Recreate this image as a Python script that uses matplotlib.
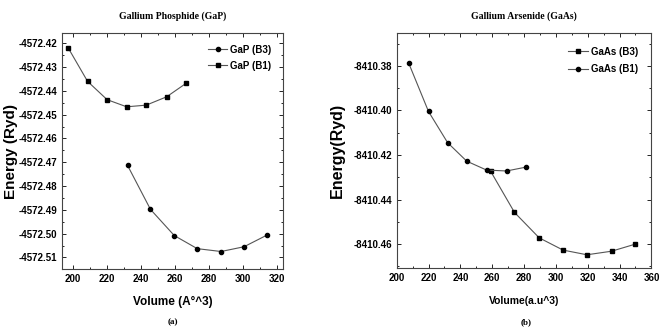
import matplotlib
matplotlib.use('Agg')
import matplotlib.pyplot as plt
from matplotlib.ticker import MultipleLocator, FormatStrFormatter

# GaP data
gap_b1_vol = [197, 208.5, 220, 231.5, 243, 255, 266.5]
gap_b1_e = [-4572.4218, -4572.4360, -4572.4437, -4572.4467, -4572.4460, -4572.4425, -4572.4368]
gap_b3_vol = [232, 245.5, 259.5, 273, 287, 300.5, 314]
gap_b3_e = [-4572.4713, -4572.4898, -4572.5008, -4572.5063, -4572.5075, -4572.5055, -4572.5006]

# GaAs data
gaas_b1_vol = [207.5, 220, 232, 244, 256.5, 269, 281]
gaas_b1_e = [-8410.3787, -8410.4005, -8410.4145, -8410.4228, -8410.4268, -8410.4272, -8410.4255]
gaas_b3_vol = [259, 274, 289.5, 304.5, 319.5, 335, 350]
gaas_b3_e = [-8410.4273, -8410.4458, -8410.4572, -8410.4627, -8410.4648, -8410.4632, -8410.4600]

narrow = ['Liberation Sans Narrow', 'Liberation Sans', 'DejaVu Sans']
sans = ['Liberation Sans', 'DejaVu Sans']
serif = ['Liberation Serif', 'DejaVu Serif']

fig = plt.figure(figsize=(6.6, 3.27), dpi=100)
ax1 = fig.add_axes([0.094, 0.177, 0.335, 0.722])
ax2 = fig.add_axes([0.601, 0.180, 0.386, 0.719])

lc = '#555555'
ax1.plot(gap_b3_vol, gap_b3_e, '-o', color=lc, lw=0.8, ms=3, mfc='black', mec='black', label='GaP (B3)')
ax1.plot(gap_b1_vol, gap_b1_e, '-s', color=lc, lw=0.8, ms=3, mfc='black', mec='black', label='GaP (B1)')
ax2.plot(gaas_b3_vol, gaas_b3_e, '-s', color=lc, lw=0.8, ms=3, mfc='black', mec='black', label='GaAs (B3)')
ax2.plot(gaas_b1_vol, gaas_b1_e, '-o', color=lc, lw=0.8, ms=3, mfc='black', mec='black', label='GaAs (B1)')

ax1.set_xlim(193.5, 323.5)
ax1.set_ylim(-4572.5149, -4572.4157)
ax1.xaxis.set_major_locator(MultipleLocator(20))
ax1.xaxis.set_minor_locator(MultipleLocator(10))
ax1.yaxis.set_major_locator(MultipleLocator(0.01))
ax1.yaxis.set_minor_locator(MultipleLocator(0.005))
ax1.yaxis.set_major_formatter(FormatStrFormatter('%.2f'))

ax2.set_xlim(200, 360)
ax2.set_ylim(-8410.4708, -8410.3653)
ax2.xaxis.set_major_locator(MultipleLocator(20))
ax2.xaxis.set_minor_locator(MultipleLocator(10))
ax2.yaxis.set_major_locator(MultipleLocator(0.02))
ax2.yaxis.set_minor_locator(MultipleLocator(0.01))
ax2.yaxis.set_major_formatter(FormatStrFormatter('%.2f'))

for ax, fam, fs in ((ax1, narrow, 7), (ax2, sans, 7)):
    ax.tick_params(which='both', direction='in', top=True, right=True, width=0.6)
    ax.tick_params(which='major', length=3)
    ax.tick_params(which='minor', length=1.5)
    for s in ax.spines.values():
        s.set_linewidth(0.8)
        s.set_color('#444444')
    for lab in ax.get_xticklabels() + ax.get_yticklabels():
        lab.set_family(fam)
        lab.set_fontweight('bold')
        lab.set_fontsize(fs)

ax1.set_ylabel('Energy (Ryd)', family=sans, fontweight='bold', fontsize=11)
ax1.yaxis.set_label_coords(-0.2, 0.5)
ax1.set_xlabel('Volume (A°^3)', family=narrow, fontweight='bold', fontsize=8.5, labelpad=9)
ax2.set_ylabel('Energy(Ryd)', family=sans, fontweight='bold', fontsize=11.5)
ax2.yaxis.set_label_coords(-0.205, 0.5)
ax2.set_xlabel('Volume(a.u^3)', family=sans, fontweight='bold', fontsize=7.5, labelpad=9)

ax1.set_title('Gallium Phosphide (GaP)', family=serif, fontweight='bold', fontsize=7, pad=10)
ax2.set_title('Gallium Arsenide (GaAs)', family=serif, fontweight='bold', fontsize=7, pad=10)

fig.text(0.262, 0.01, '(a)', family=serif, fontweight='bold', fontsize=6.5, ha='center')
fig.text(0.797, 0.01, '(b)', family=serif, fontweight='bold', fontsize=6.5, ha='center')

ax1.legend(loc='upper right', frameon=False, handlelength=2.0, handletextpad=0.3,
           borderaxespad=0.8, labelspacing=0.6,
           prop={'family': narrow, 'weight': 'bold', 'size': 7})
ax2.legend(loc='upper right', frameon=False, handlelength=2.0, handletextpad=0.3,
           borderaxespad=1.0, labelspacing=0.8,
           prop={'family': sans, 'weight': 'bold', 'size': 7})

fig.savefig('out.png', dpi=100)
